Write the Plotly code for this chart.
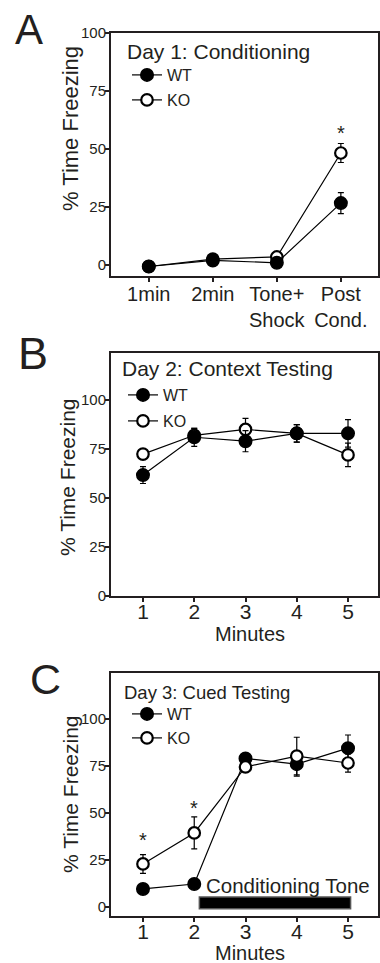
import plotly.graph_objects as go

W, H = 380, 963
FONT = "Arial, Liberation Sans, Helvetica, sans-serif"
INK = "#231f20"


def px(x):
    return x / W


def py(y):
    return 1 - y / H


# ---------------- data ----------------
# Panel A: Day 1 conditioning
a_categories = ["1min", "2min", "Tone+Shock", "Post Cond."]
a_ticklabels = ["1min", "2min", "Tone+<br>Shock", "Post<br>Cond."]
a_wt = [-0.6, 2.0, 1.0, 26.7]
a_wt_err = [1.0, 1.5, 1.5, 4.5]
a_ko = [-0.6, 2.6, 3.5, 48.3]
a_ko_err = [1.0, 1.5, 1.5, 4.1]
a_star_cat = ["Post Cond."]
a_star_y = [57.0]

# Panel B: Day 2 context testing
b_minutes = [1, 2, 3, 4, 5]
b_wt = [61.7, 81.0, 79.0, 83.0, 83.0]
b_wt_err = [4.3, 4.6, 5.4, 4.5, 7.0]
b_ko = [72.4, 82.0, 85.0, 83.0, 72.0]
b_ko_err = [2.5, 3.5, 5.6, 4.5, 6.0]

# Panel C: Day 3 cued testing
c_minutes = [1, 2, 3, 4, 5]
c_wt = [9.6, 12.2, 79.0, 76.0, 84.5]
c_wt_err = [1.5, 1.5, 2.0, 6.4, 7.0]
c_ko = [22.9, 39.4, 74.5, 80.3, 76.6]
c_ko_err = [5.0, 8.5, 2.5, 10.0, 4.8]
c_star_x = [1, 2]
c_star_y = [35.6, 52.6]
tone_span = [2.1, 5.05]
tone_height = [-1.0, 5.3]
tone_label_pos = [2.2, 11.2]

yticks = [0, 25, 50, 75, 100]

# ---------------- styles ----------------
wt_marker = dict(symbol="circle", size=12.5, color="#000000", line=dict(color="#000000", width=1.5))
ko_marker = dict(symbol="circle", size=11.5, color="#ffffff", line=dict(color="#000000", width=2.2))
line_style = dict(color="#000000", width=1.2)


def err(vals):
    return dict(type="data", array=vals, visible=True, color="#000000", thickness=1.2, width=3)


fig = go.Figure()

# legend ids: one legend per entry so each can be placed exactly
panels = [
    ("x", "y", "legend", "legend2", a_categories, a_wt, a_wt_err, a_ko, a_ko_err, "wt_top"),
    ("x2", "y2", "legend3", "legend4", b_minutes, b_wt, b_wt_err, b_ko, b_ko_err, "wt_top"),
    ("x3", "y3", "legend5", "legend6", c_minutes, c_wt, c_wt_err, c_ko, c_ko_err, "ko_top"),
]

for xa, ya, lg_wt, lg_ko, xs, wt, wterr, ko, koerr, order in panels:
    wt_tr = go.Scatter(x=xs, y=wt, mode="lines+markers", name="WT", marker=wt_marker,
                       line=line_style, error_y=err(wterr), xaxis=xa, yaxis=ya,
                       legend=lg_wt, hoverinfo="skip")
    ko_tr = go.Scatter(x=xs, y=ko, mode="lines+markers", name="KO", marker=ko_marker,
                       line=line_style, error_y=err(koerr), xaxis=xa, yaxis=ya,
                       legend=lg_ko, hoverinfo="skip")
    if order == "wt_top":
        fig.add_trace(ko_tr)
        fig.add_trace(wt_tr)
    else:
        fig.add_trace(wt_tr)
        fig.add_trace(ko_tr)

# ---------------- axes ----------------
xdom = [px(111), px(378)]


def yaxis(dom, rng, anchor):
    return dict(domain=dom, range=rng, anchor=anchor, tickmode="array", tickvals=yticks,
                ticks="outside", ticklen=4, tickwidth=1.5, tickcolor=INK,
                ticklabelstandoff=-4,
                showline=True, linecolor=INK, linewidth=2, mirror=True,
                showgrid=False, zeroline=False, automargin=False,
                tickfont=dict(family=FONT, size=15, color=INK))


def xaxis(anchor, rng, size, standoff, **kw):
    d = dict(domain=xdom, anchor=anchor, range=rng,
             ticks="outside", ticklen=4, tickwidth=1.5, tickcolor=INK,
             ticklabelstandoff=standoff,
             showline=True, linecolor=INK, linewidth=2, mirror=True,
             showgrid=False, zeroline=False, automargin=False,
             tickfont=dict(family=FONT, size=size, color=INK))
    d.update(kw)
    return d


layout = dict(
    width=W, height=H, autosize=False,
    margin=dict(l=0, r=0, t=0, b=0, pad=0, autoexpand=False),
    paper_bgcolor="white", plot_bgcolor="white",
    font=dict(family=FONT, color=INK),
    showlegend=True,
    xaxis=xaxis("y", [-0.59, 3.58], 20, -5, type="category", tickmode="array",
                tickvals=a_categories, ticktext=a_ticklabels),
    yaxis=yaxis([py(276), py(33)], [-4.7, 100], "x"),
    xaxis2=xaxis("y2", [0.376, 5.585], 21, -8, tickmode="array", tickvals=b_minutes),
    yaxis2=yaxis([py(596), py(353)], [0, 124], "x2"),
    xaxis3=xaxis("y3", [0.376, 5.585], 21, -8, tickmode="array", tickvals=c_minutes),
    yaxis3=yaxis([py(916), py(673)], [-4.8, 124.5], "x3"),
)

legend_common = dict(xanchor="left", yanchor="middle", bgcolor="rgba(0,0,0,0)",
                     borderwidth=0, itemwidth=30, tracegroupgap=0,
                     font=dict(family=FONT, size=16, color=INK))
# (legend id, marker centre x px, row centre y px)
legend_rows = [("legend", 147, 75), ("legend2", 147, 100),
               ("legend3", 143, 395), ("legend4", 143, 421),
               ("legend5", 147, 714), ("legend6", 147, 738)]
for lid, mx, my in legend_rows:
    layout[lid] = dict(legend_common, x=px(mx - 20), y=py(my))

fig.update_layout(**layout)

# ---------------- annotations ----------------
ann = []


def paper_text(text, x, y, size, xanchor="center", **kw):
    d = dict(text=text, x=px(x), y=py(y), xref="paper", yref="paper", showarrow=False,
             xanchor=xanchor, yanchor="middle",
             font=dict(family=FONT, size=size, color=INK))
    d.update(kw)
    ann.append(d)


# panel letters
paper_text("A", 29, 29, 42)
paper_text("B", 33, 353, 45)
paper_text("C", 45, 679, 43)

# y axis titles
paper_text("% Time Freezing", 70, 129, 22, textangle=-90)
paper_text("% Time Freezing", 68, 477, 21, textangle=-90)
paper_text("% Time Freezing", 70, 794, 21, textangle=-90)

# panel titles
paper_text("Day 1: Conditioning", 125, 52, 21, xanchor="left")
paper_text("Day 2: Context Testing", 120, 369, 21, xanchor="left")
paper_text("Day 3: Cued Testing", 122, 692, 18.5, xanchor="left")

# x axis titles
paper_text("Minutes", 250, 634, 20)
paper_text("Minutes", 250, 953, 20)

# significance stars
for cat, yv in zip(a_star_cat, a_star_y):
    ann.append(dict(text="*", x=a_categories.index(cat), y=yv, xref="x", yref="y",
                    showarrow=False, xanchor="center", yanchor="middle",
                    font=dict(family=FONT, size=20, color=INK)))
for xv, yv in zip(c_star_x, c_star_y):
    ann.append(dict(text="*", x=xv, y=yv, xref="x3", yref="y3",
                    showarrow=False, xanchor="center", yanchor="middle",
                    font=dict(family=FONT, size=20, color=INK)))

# conditioning tone label
ann.append(dict(text="Conditioning Tone", x=tone_label_pos[0], y=tone_label_pos[1],
                xref="x3", yref="y3", showarrow=False, xanchor="left", yanchor="middle",
                font=dict(family=FONT, size=20.5, color=INK)))

fig.update_layout(annotations=ann)

fig.add_shape(type="rect", xref="x3", yref="y3",
              x0=tone_span[0], x1=tone_span[1], y0=tone_height[0], y1=tone_height[1],
              fillcolor="#000000", line=dict(color="#555555", width=1.5), layer="above")

fig.write_html("out.html")
